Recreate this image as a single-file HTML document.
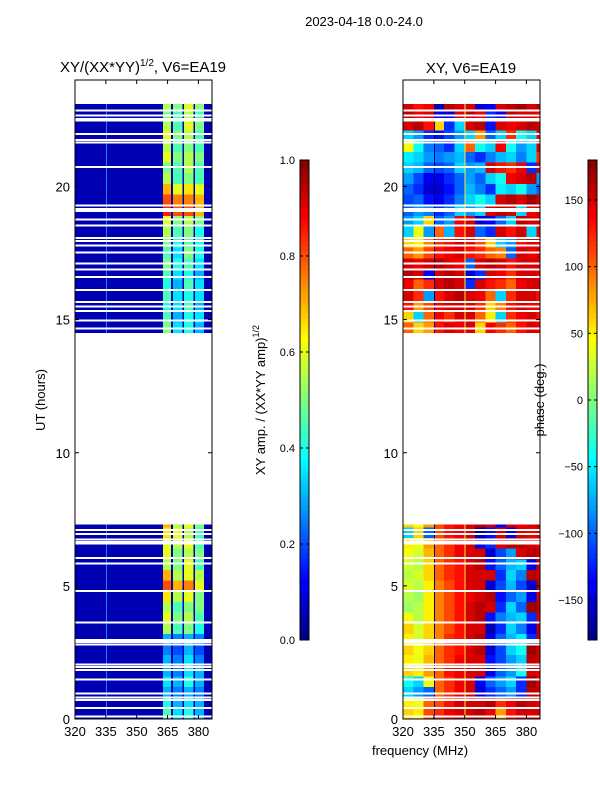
<!DOCTYPE html>
<html><head><meta charset="utf-8">
<style>
body{margin:0;background:#fff;}
svg text{font-family:"Liberation Sans",sans-serif;fill:#000;}
</style></head>
<body>
<svg id="fig" width="600" height="800" xmlns="http://www.w3.org/2000/svg">
<text x="364" y="26" font-size="13" text-anchor="middle">2023-04-18 0.0-24.0</text>
<text x="143" y="72" font-size="15" text-anchor="middle">XY/(XX*YY)<tspan dy="-6" font-size="10">1/2</tspan><tspan dy="6">, V6=EA19</tspan></text>
<text x="471" y="73" font-size="15" text-anchor="middle">XY, V6=EA19</text>
<text x="420" y="755" font-size="13" text-anchor="middle">frequency (MHz)</text>
<text transform="translate(45,400) rotate(-90)" font-size="13" text-anchor="middle">UT (hours)</text>
<text transform="translate(265,400) rotate(-90)" font-size="13" text-anchor="middle">XY amp. / (XX*YY amp)<tspan dy="-6" font-size="9">1/2</tspan></text>
<text transform="translate(544,400) rotate(-90)" font-size="13" text-anchor="middle">phase (deg.)</text>
<g id="ampPanel"></g>
<g id="phPanel"></g>
<g id="axes"></g>
</svg>
<script>
// ---- data ----
const segStarts = [0, 14.5];
const segEnds = [7.3, 23.1];
const rowStep = 0.4;
// amplitude: background (320-362 MHz) and four stripe bands
const stripeLo = [362.8, 367.7, 373.0, 378.4];
const stripeHi = [366.7, 372.3, 377.6, 382.6];
const ampBackground = 0.05;
const ampSeg0 = [
 [0.45,0.35,0.4,0.3],[0.4,0.3,0.35,0.3],[0.3,0.25,0.3,0.25],[0.35,0.3,0.4,0.3],[0.3,0.25,0.35,0.3],
 [0.3,0.25,0.35,0.25],[0.25,0.2,0.3,0.2],[0.3,0.25,0.3,0.25],[0.55,0.45,0.5,0.4],[0.6,0.5,0.55,0.45],
 [0.55,0.45,0.5,0.5],[0.65,0.55,0.6,0.5],[0.8,0.7,0.75,0.6],[0.7,0.55,0.6,0.55],[0.55,0.5,0.6,0.45],
 [0.6,0.5,0.55,0.5],[0.6,0.55,0.6,0.45],[0.65,0.6,0.55,0.45],[0.7,0.55,0.6,0.5]];
const ampSeg1 = [
 [0.5,0.35,0.4,0.3],[0.45,0.3,0.4,0.35],[0.4,0.35,0.45,0.3],[0.45,0.35,0.4,0.35],[0.4,0.3,0.45,0.35],
 [0.45,0.35,0.4,0.3],[0.5,0.4,0.45,0.35],[0.45,0.35,0.5,0.4],[0.5,0.4,0.45,0.4],[0.55,0.45,0.5,0.4],
 [0.6,0.5,0.55,0.5],[0.85,0.8,0.8,0.7],[0.8,0.75,0.75,0.7],[0.7,0.6,0.65,0.6],[0.55,0.45,0.5,0.45],
 [0.5,0.45,0.55,0.45],[0.6,0.5,0.55,0.5],[0.55,0.45,0.5,0.45],[0.6,0.5,0.55,0.45],[0.55,0.45,0.6,0.5],
 [0.5,0.45,0.55,0.45],[0.55,0.5,0.6,0.5]];
// phase: 14 frequency columns of 5 MHz starting at 320
const phFreq0 = 320, phFreqStep = 5;
const phSeg0 = [
 [60,50,110,120,140,150,150,160,140,80,130,150,150,150],
 [50,40,100,110,130,150,150,150,160,120,140,160,150,140],
 [-60,-80,-100,100,120,140,150,-150,-120,-100,-80,-120,160,150],
 [-40,-60,40,100,120,140,150,-140,-100,-80,-60,-120,170,150],
 [60,50,80,100,130,140,150,150,-140,-100,-80,-40,150,140],
 [50,40,70,100,120,140,150,150,-130,-110,-80,-60,160,150],
 [60,40,60,100,120,130,150,160,-150,-110,-60,-40,170,150],
 [50,30,60,90,120,130,150,160,-140,-100,-70,-50,-120,160],
 [60,30,60,90,110,130,150,150,-160,-120,-60,-90,-140,160],
 [40,20,50,90,110,130,150,160,-130,-90,-70,-60,-120,150],
 [10,20,50,90,110,130,150,160,150,-120,-60,-100,170,160],
 [20,10,50,90,110,130,140,150,160,-130,-100,-80,-140,150],
 [30,20,50,90,110,130,150,150,-150,-110,-70,-110,-150,160],
 [20,30,60,100,120,130,150,150,150,-120,-60,-90,160,150],
 [30,20,60,100,120,130,150,160,-130,-100,-70,-60,-140,150],
 [40,30,70,100,120,140,150,150,-150,-110,-80,150,160,150],
 [50,40,80,100,120,140,150,-140,-120,150,160,160,150,140],
 [-60,60,-100,110,130,140,150,-160,-130,150,-140,150,140,150],
 [60,40,80,110,130,140,150,160,150,-140,150,140,150,160]];
const phSeg1 = [
 [100,60,80,130,150,140,150,60,140,120,100,130,150,140],
 [60,-60,100,140,120,150,150,100,50,-60,120,140,150,130],
 [130,80,110,140,150,150,150,120,60,90,130,150,140,140],
 [150,120,-80,130,150,160,150,140,100,-60,120,150,150,130],
 [140,100,120,150,160,150,-120,150,130,120,100,140,150,150],
 [160,150,-140,150,160,150,-150,-120,150,140,120,150,150,140],
 [150,140,150,160,150,140,-100,150,160,150,130,150,150,150],
 [100,80,110,130,140,150,130,120,100,90,-100,150,140,150],
 [60,50,90,120,130,150,140,110,60,-60,-80,130,150,140],
 [-60,40,-80,100,-70,130,150,-100,-120,150,130,150,-60,140],
 [-80,-60,60,-100,-80,140,150,-150,-140,-100,-60,160,150,150],
 [-100,-80,-90,-120,-100,-60,-80,-60,150,160,150,-60,140,150],
 [-110,-100,-130,-140,-120,-90,-60,-40,-60,150,160,150,170,150],
 [-100,-120,-150,-150,-130,-100,-70,-90,-120,-50,-60,-40,-80,-100],
 [-80,-110,-140,-140,-120,-100,-80,-100,-60,-40,140,150,160,-80],
 [-60,-70,-100,-110,-100,-60,-80,-70,150,130,120,140,-120,150],
 [-50,-60,-80,-90,-80,-70,-100,-120,-90,-70,-60,-90,-60,120],
 [40,-40,-90,-100,-120,-60,100,-40,-60,140,-40,-80,-60,150],
 [-60,-80,-120,-130,-110,-80,-60,80,-100,-60,120,-40,-60,140],
 [150,160,130,60,-120,-60,150,160,-130,150,140,150,160,150],
 [160,140,150,-140,-150,150,160,140,-120,-140,160,150,150,140],
 [150,130,140,-160,160,150,150,-150,-140,150,160,170,150,160]];
// horizontal gaps (flagged times, hours)
const gapTimes = [22.85,22.66,22.54,22.48,21.98,21.75,21.66,20.73,19.29,19.16,19.08,18.76,18.54,18.06,17.95,17.79,17.53,17.1,16.89,16.6,16.12,15.66,15.5,15.32,14.97,14.66,
 7.09,6.94,6.75,6.65,6.59,6.05,5.84,4.8,3.63,2.96,2.9,2.8,2.05,1.96,1.84,1.49,0.96,0.81,0.71,0.42,0.09];
const yTicks = [0,5,10,15,20];
const xTicks = [320,335,350,365,380];
const ampCbTicks = [0.0,0.2,0.4,0.6,0.8,1.0];
const phCbTicks = [-150,-100,-50,0,50,100,150];

// ---- scales ----
const NS='http://www.w3.org/2000/svg';
const yT = t => 719 - (t/24)*639;
const fMin=320, fMax=386.6;
function xF(left){ return f => left + (f-fMin)/(fMax-fMin)*137; }
function jet(v){
  v=Math.max(0,Math.min(1,v));
  const r=Math.max(0,Math.min(1,1.5-Math.abs(4*v-3)));
  const g=Math.max(0,Math.min(1,1.5-Math.abs(4*v-2)));
  const b=Math.max(0,Math.min(1,1.5-Math.abs(4*v-1)));
  return `rgb(${Math.round(r*255)},${Math.round(g*255)},${Math.round(b*255)})`;
}
function rect(g,x,y,w,h,fill){
  const r=document.createElementNS(NS,'rect');
  r.setAttribute('x',x);r.setAttribute('y',y);r.setAttribute('width',w);r.setAttribute('height',h);
  r.setAttribute('fill',fill);r.setAttribute('shape-rendering','crispEdges');
  
  
  g.appendChild(r);return r;
}
function txt(g,x,y,s,anchor,size){
  const t=document.createElementNS(NS,'text');
  t.setAttribute('x',x);t.setAttribute('y',y);t.setAttribute('font-size',size||13);
  t.setAttribute('text-anchor',anchor);t.textContent=s;
  
  
  g.appendChild(t);
}
function line(g,x1,y1,x2,y2,c,w){
  const l=document.createElementNS(NS,'line');
  l.setAttribute('x1',x1);l.setAttribute('y1',y1);l.setAttribute('x2',x2);l.setAttribute('y2',y2);
  l.setAttribute('stroke',c);l.setAttribute('stroke-width',w||1);
  
  
  g.appendChild(l);
}
const amp=document.getElementById('ampPanel'), ph=document.getElementById('phPanel'), ax=document.getElementById('axes');
const xa=xF(75), xp=xF(403);
const ampSegs=[ampSeg0,ampSeg1], phSegs=[phSeg0,phSeg1];
for(let s=0;s<2;s++){
  const rows=ampSegs[s];
  for(let i=0;i<rows.length;i++){
    const t0=segStarts[s]+i*rowStep, t1=Math.min(segEnds[s],t0+rowStep);
    const y=yT(t1), h=yT(t0)-yT(t1);
    rect(amp,xa(fMin),y,xa(fMax)-xa(fMin),h,jet(ampBackground));
    for(let k=0;k<4;k++) rect(amp,xa(stripeLo[k]),y,xa(stripeHi[k])-xa(stripeLo[k]),h,jet(rows[i][k]));
    const pr=phSegs[s][i];
    for(let k=0;k<pr.length;k++){
      const f0=phFreq0+k*phFreqStep, f1=Math.min(fMax,f0+phFreqStep);
      rect(ph,xp(f0),y,xp(f1)-xp(f0)+0.3,h,jet((pr[k]+180)/360));
    }
  }
  const ya=yT(segEnds[s]), yb=yT(segStarts[s]);
  rect(amp,xa(335),ya,1,yb-ya,'rgb(40,120,255)');
  rect(ph,xp(335),ya,1,yb-ya,'rgb(0,0,120)');
  rect(ph,xp(350),ya,1,yb-ya,'rgb(255,230,60)');
}
for(const g of gapTimes){
  rect(amp,75,yT(g)-1,137,2,'#fff');
  rect(ph,403,yT(g)-1,137,2,'#fff');
}
for(const left of [75,403]){
  const f=document.createElementNS(NS,'rect');
  f.setAttribute('x',left);f.setAttribute('y',80);f.setAttribute('width',137);f.setAttribute('height',639);
  f.setAttribute('fill','none');f.setAttribute('stroke','#000');
  
  
  ax.appendChild(f);
  const xs=xF(left);
  for(const t of yTicks){ const y=yT(t); line(ax,left,y,left+4,y,'#000'); line(ax,left+137,y,left+133,y,'#000'); txt(ax,left-5,y+5,String(t),'end'); }
  for(const v of xTicks){ const x=xs(v); line(ax,x,719,x,715,'#000'); line(ax,x,80,x,84,'#000'); txt(ax,x,736,String(v),'middle'); }
}
function cbar(x,nm){
  const n=100;
  for(let i=0;i<n;i++){ const r=rect(ax,x,640-(i+1)*4.8,9,4.9,jet((i+0.5)/n));  }
  const f=document.createElementNS(NS,'rect');
  f.setAttribute('x',x);f.setAttribute('y',160);f.setAttribute('width',9);f.setAttribute('height',480);
  f.setAttribute('fill','none');f.setAttribute('stroke','#000');
  
  
  ax.appendChild(f);
}
cbar(300,'amp-colorbar'); cbar(588,'phase-colorbar');
for(const v of ampCbTicks){ const y=640-v*480; line(ax,300,y,303,y,'#000'); line(ax,309,y,306,y,'#000'); txt(ax,295,y+4,v.toFixed(1),'end',11); }
for(const v of phCbTicks){ const y=400-v*480/360; line(ax,588,y,591,y,'#000'); line(ax,597,y,594,y,'#000'); txt(ax,583,y+4,v<0?'\u2212'+(-v):String(v),'end',11); }
</script>
</body></html>
